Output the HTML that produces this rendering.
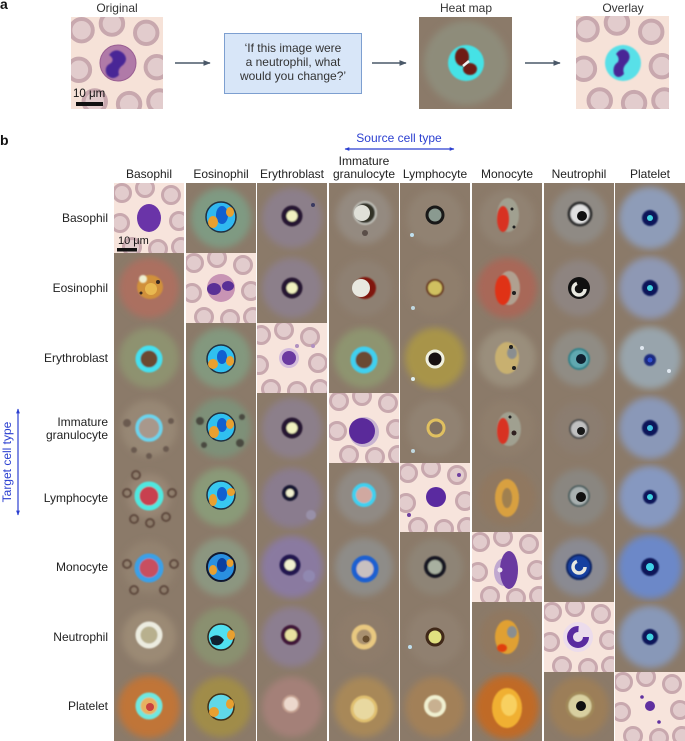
<!DOCTYPE html>
<html><head><meta charset="utf-8"><style>
html,body{margin:0;padding:0;background:#fff;}
svg{display:block;}
text{font-family:"Liberation Sans",Arial,sans-serif;}
</style></head><body>
<svg width="685" height="741" viewBox="0 0 685 741" xmlns="http://www.w3.org/2000/svg">
<defs>
<filter id="h" x="-25%" y="-25%" width="150%" height="150%"><feGaussianBlur stdDeviation="3.5"/></filter>
<filter id="s" x="-30%" y="-30%" width="160%" height="160%"><feGaussianBlur stdDeviation="0.9"/></filter>
<g id="R">
<circle cx="8" cy="10" r="8.5" fill="#e2cccd" stroke="#c8a8ae" stroke-width="3"/>
<circle cx="31" cy="5" r="8.5" fill="#e2cccd" stroke="#c8a8ae" stroke-width="3"/>
<circle cx="57" cy="12" r="8.5" fill="#e2cccd" stroke="#c8a8ae" stroke-width="3"/>
<circle cx="6" cy="40" r="8.5" fill="#e2cccd" stroke="#c8a8ae" stroke-width="3"/>
<circle cx="65" cy="38" r="8.5" fill="#e2cccd" stroke="#c8a8ae" stroke-width="3"/>
<circle cx="18" cy="64" r="8.5" fill="#e2cccd" stroke="#c8a8ae" stroke-width="3"/>
<circle cx="44" cy="66" r="8.5" fill="#e2cccd" stroke="#c8a8ae" stroke-width="3"/>
<circle cx="67" cy="64" r="8.5" fill="#e2cccd" stroke="#c8a8ae" stroke-width="3"/>
</g>
<marker id="ah" viewBox="0 0 10 10" refX="9" refY="5" markerWidth="5" markerHeight="5" orient="auto"><path d="M0,1 L10,5 L0,9 z" fill="#4a5868"/></marker>
<marker id="bh" viewBox="0 0 10 10" refX="9" refY="5" markerWidth="4" markerHeight="4" orient="auto-start-reverse"><path d="M0,1 L10,5 L0,9 z" fill="#2b3fd0"/></marker>
</defs>

<!-- Panel a -->
<text x="0" y="9" font-size="14" font-weight="bold" fill="#111">a</text>
<text x="117" y="12" font-size="12" fill="#333" text-anchor="middle">Original</text>
<text x="466" y="12" font-size="12" fill="#333" text-anchor="middle">Heat map</text>
<text x="623" y="12" font-size="12" fill="#333" text-anchor="middle">Overlay</text>

<svg x="71" y="17" width="92" height="92"><rect width="92" height="92" fill="#f6e2d8"/>
<g transform="scale(1.32)"><use href="#R"/></g>
<circle cx="47" cy="46" r="18" fill="#b07aa8" stroke="#9a5f92" stroke-width="1"/>
<path d="M38,38 q6,-8 14,-2 q6,6 0,12 q-6,4 -4,10 q-6,6 -12,0 q-4,-8 4,-12 q4,-4 -2,-8z" fill="#4a2896" filter="url(#s)"/>
<text x="2" y="80" font-size="11.5" fill="#111">10 μm</text>
<rect x="5" y="85" width="27" height="4" fill="#111"/>
</svg>

<line x1="175" y1="63" x2="210" y2="63" stroke="#4a5868" stroke-width="1.5" marker-end="url(#ah)"/>
<rect x="224.5" y="33.5" width="137" height="60" fill="#d8e6f8" stroke="#7d9fd0" stroke-width="1"/>
<text x="293" y="52" font-size="12" fill="#333" text-anchor="middle">‘If this image were</text>
<text x="293" y="66" font-size="12" fill="#333" text-anchor="middle">a neutrophil, what</text>
<text x="293" y="80" font-size="12" fill="#333" text-anchor="middle">would you change?’</text>
<line x1="372" y1="63" x2="406" y2="63" stroke="#4a5868" stroke-width="1.5" marker-end="url(#ah)"/>

<svg x="419" y="17" width="93" height="92"><rect width="93" height="92" fill="#8b7a69"/>
<circle cx="47" cy="46" r="42" fill="#8e8c7a" filter="url(#h)"/>
<circle cx="47" cy="46" r="18" fill="#44e2e6" filter="url(#s)"/>
<ellipse cx="43" cy="40" rx="7" ry="9" fill="#6e1e12" filter="url(#s)"/>
<ellipse cx="51" cy="52" rx="7" ry="6" fill="#6e1e12" filter="url(#s)"/>
<path d="M44,49 L50,44" stroke="#f0f0f0" stroke-width="2.5"/>
</svg>

<line x1="525" y1="63" x2="560" y2="63" stroke="#4a5868" stroke-width="1.5" marker-end="url(#ah)"/>

<svg x="576" y="16" width="93" height="93"><rect width="93" height="93" fill="#f6e2d8"/>
<g transform="scale(1.32)"><use href="#R"/></g>
<circle cx="47" cy="47" r="18" fill="#58e0e8" filter="url(#s)"/>
<path d="M40,38 q6,-8 12,-2 q4,6 -2,12 q-4,4 -2,10 q-6,6 -10,0 q-2,-8 4,-12 q2,-4 -2,-8z" fill="#4a2896" filter="url(#s)"/>
</svg>

<!-- Panel b headers -->
<text x="0" y="145" font-size="14" font-weight="bold" fill="#111">b</text>
<text x="399" y="142" font-size="12" fill="#2b3fd0" text-anchor="middle">Source cell type</text>
<line x1="345" y1="149" x2="454" y2="149" stroke="#2b3fd0" stroke-width="1.2" marker-start="url(#bh)" marker-end="url(#bh)"/>
<g font-size="12" fill="#222" text-anchor="middle">
<text x="149" y="178">Basophil</text>
<text x="221" y="178">Eosinophil</text>
<text x="292" y="178">Erythroblast</text>
<text x="364" y="165">Immature</text>
<text x="364" y="178">granulocyte</text>
<text x="435" y="178">Lymphocyte</text>
<text x="507" y="178">Monocyte</text>
<text x="579" y="178">Neutrophil</text>
<text x="650" y="178">Platelet</text>
</g>
<g font-size="12" fill="#222" text-anchor="end">
<text x="108" y="222">Basophil</text>
<text x="108" y="292">Eosinophil</text>
<text x="108" y="362">Erythroblast</text>
<text x="108" y="426">Immature</text>
<text x="108" y="439">granulocyte</text>
<text x="108" y="502">Lymphocyte</text>
<text x="108" y="571">Monocyte</text>
<text x="108" y="641">Neutrophil</text>
<text x="108" y="710">Platelet</text>
</g>
<text transform="translate(11,462) rotate(-90)" font-size="12" fill="#2b3fd0" text-anchor="middle">Target cell type</text>
<line x1="18" y1="409" x2="18" y2="515" stroke="#2b3fd0" stroke-width="1.2" marker-start="url(#bh)" marker-end="url(#bh)"/>

<!-- Column 1: Basophil source -->
<svg x="114" y="183" width="70" height="70"><rect width="70" height="70" fill="#f7e4dc"/><use href="#R"/>
<ellipse cx="35" cy="35" rx="12" ry="14" fill="#6a34a8"/>
<text x="4" y="61" font-size="11" fill="#111">10 μm</text><rect x="3" y="65" width="20" height="3.5" fill="#111"/></svg>
<svg x="114" y="253" width="70" height="70"><rect width="70" height="70" fill="#8b7a69"/><circle cx="35" cy="35" r="30" fill="#ab7060" filter="url(#h)"/>
<ellipse cx="36" cy="34" rx="13" ry="12" fill="#d0903a" filter="url(#s)"/><circle cx="37" cy="36" r="6" fill="#e8b850"/><circle cx="29" cy="26" r="4" fill="#eeeed0" filter="url(#s)"/><circle cx="44" cy="29" r="2" fill="#3a2a20"/><circle cx="27" cy="40" r="1.5" fill="#3a2a20"/></svg>
<svg x="114" y="323" width="70" height="70"><rect width="70" height="70" fill="#8b7a69"/><circle cx="35" cy="35" r="30" fill="#8e9270" filter="url(#h)"/>
<circle cx="35" cy="36" r="11" fill="#6a4a30" stroke="#44e0f0" stroke-width="5" filter="url(#s)"/></svg>
<svg x="114" y="393" width="70" height="70"><rect width="70" height="70" fill="#8b7a69"/><circle cx="35" cy="35" r="28" fill="#978775" filter="url(#h)"/>
<g fill="#6a5a50" filter="url(#s)"><circle cx="13" cy="30" r="4"/><circle cx="57" cy="28" r="3"/><circle cx="20" cy="57" r="3"/><circle cx="52" cy="56" r="3"/><circle cx="35" cy="63" r="3"/></g>
<circle cx="35" cy="35" r="12" fill="#a8988c" stroke="#6ad4ee" stroke-width="3.5" filter="url(#s)"/></svg>
<svg x="114" y="463" width="70" height="69"><rect width="70" height="70" fill="#8b7a69"/><circle cx="35" cy="33" r="22" fill="#988674" filter="url(#h)"/>
<g fill="none" stroke="#5e4a3e" stroke-width="2" filter="url(#s)"><circle cx="13" cy="30" r="4"/><circle cx="58" cy="30" r="4"/><circle cx="20" cy="56" r="4"/><circle cx="36" cy="60" r="4"/><circle cx="52" cy="54" r="4"/><circle cx="22" cy="12" r="4"/></g>
<circle cx="35" cy="33" r="12" fill="#c84050" stroke="#50e8e0" stroke-width="5" filter="url(#s)"/></svg>
<svg x="114" y="532" width="70" height="70"><rect width="70" height="70" fill="#8b7a69"/><circle cx="35" cy="35" r="26" fill="#93826f" filter="url(#h)"/>
<g fill="none" stroke="#5e4a3e" stroke-width="2" filter="url(#s)"><circle cx="13" cy="32" r="4"/><circle cx="60" cy="32" r="4"/><circle cx="20" cy="58" r="4"/><circle cx="50" cy="58" r="4"/></g>
<circle cx="35" cy="36" r="12" fill="#c85060" stroke="#3aa0e8" stroke-width="5" filter="url(#s)"/></svg>
<svg x="114" y="602" width="70" height="70"><rect width="70" height="70" fill="#8b7a69"/><circle cx="35" cy="35" r="27" fill="#9b8a74" filter="url(#h)"/>
<circle cx="35" cy="33" r="11" fill="#b8b08e" stroke="#ecece0" stroke-width="5" filter="url(#s)"/></svg>
<svg x="114" y="672" width="70" height="69"><rect width="70" height="70" fill="#8b7a69"/><circle cx="35" cy="35" r="31" fill="#c07438" filter="url(#h)"/>
<circle cx="35" cy="34" r="11" fill="#e8b060" stroke="#70e8e0" stroke-width="5" filter="url(#s)"/><circle cx="36" cy="35" r="4" fill="#c84040"/></svg>

<!-- Column 2: Eosinophil source -->
<svg x="186" y="183" width="70" height="70"><rect width="70" height="70" fill="#8b7a69"/><circle cx="35" cy="35" r="30" fill="#7f9a82" filter="url(#h)"/>
<circle cx="35" cy="34" r="15" fill="#30b8f0" stroke="#203040" stroke-width="1.5"/><ellipse cx="36" cy="32" rx="6" ry="9" fill="#1060d0"/><ellipse cx="27" cy="39" rx="5" ry="6" fill="#e8a030"/><ellipse cx="44" cy="29" rx="4" ry="5" fill="#e8a030"/></svg>
<svg x="186" y="253" width="70" height="70"><rect width="70" height="70" fill="#f7e4dc"/><use href="#R"/>
<circle cx="35" cy="35" r="14" fill="#c894b4"/><ellipse cx="28" cy="36" rx="7" ry="6" fill="#5a3096"/><ellipse cx="42" cy="33" rx="6" ry="5" fill="#5a3096"/></svg>
<svg x="186" y="323" width="70" height="70"><rect width="70" height="70" fill="#8b7a69"/><circle cx="35" cy="35" r="30" fill="#83987e" filter="url(#h)"/>
<circle cx="35" cy="36" r="14" fill="#30c0f0" stroke="#203040" stroke-width="1.5"/><ellipse cx="36" cy="34" rx="5" ry="7" fill="#1060d0"/><ellipse cx="27" cy="41" rx="5" ry="5" fill="#e8a030"/><ellipse cx="44" cy="38" rx="4" ry="5" fill="#e8a030"/></svg>
<svg x="186" y="393" width="70" height="70"><rect width="70" height="70" fill="#8b7a69"/><circle cx="35" cy="35" r="30" fill="#7e9078" filter="url(#h)"/>
<g fill="#4a4a40" filter="url(#s)"><circle cx="14" cy="28" r="4"/><circle cx="56" cy="24" r="3"/><circle cx="18" cy="52" r="3"/><circle cx="54" cy="50" r="4"/></g>
<circle cx="35" cy="34" r="14" fill="#30c0f0" stroke="#203040" stroke-width="1.5"/><ellipse cx="36" cy="32" rx="5" ry="7" fill="#1060d0"/><ellipse cx="28" cy="39" rx="5" ry="6" fill="#e8a030"/><ellipse cx="44" cy="31" rx="4" ry="5" fill="#e8a030"/></svg>
<svg x="186" y="463" width="70" height="69"><rect width="70" height="70" fill="#8b7a69"/><circle cx="35" cy="34" r="29" fill="#8a9a78" filter="url(#h)"/>
<circle cx="35" cy="32" r="14" fill="#38c8f0" stroke="#203040" stroke-width="1.5"/><ellipse cx="36" cy="31" rx="5" ry="7" fill="#1060d0"/><ellipse cx="27" cy="37" rx="4" ry="6" fill="#e8a030"/><ellipse cx="45" cy="29" rx="4" ry="4" fill="#e8a030"/></svg>
<svg x="186" y="532" width="70" height="70"><rect width="70" height="70" fill="#8b7a69"/><circle cx="35" cy="35" r="29" fill="#8c9680" filter="url(#h)"/>
<circle cx="35" cy="35" r="14" fill="#2a90e0" stroke="#101830" stroke-width="2"/><ellipse cx="36" cy="33" rx="5" ry="7" fill="#0a40a0"/><ellipse cx="27" cy="38" rx="4" ry="5" fill="#e8a030"/><ellipse cx="44" cy="31" rx="3.5" ry="4" fill="#e8a030"/></svg>
<svg x="186" y="602" width="70" height="70"><rect width="70" height="70" fill="#8b7a69"/><circle cx="35" cy="35" r="29" fill="#8a9070" filter="url(#h)"/>
<circle cx="35" cy="35" r="13" fill="#50e0f0" stroke="#302820" stroke-width="1.5"/><path d="M24,36 q8,-6 14,2 q-4,8 -12,4z" fill="#102030"/><ellipse cx="45" cy="33" rx="4" ry="5" fill="#e8a030"/></svg>
<svg x="186" y="672" width="70" height="69"><rect width="70" height="70" fill="#8b7a69"/><circle cx="35" cy="35" r="30" fill="#a08c48" filter="url(#h)"/>
<circle cx="35" cy="35" r="13" fill="#60d8e8" stroke="#403018" stroke-width="1.5"/><ellipse cx="28" cy="40" rx="5" ry="5" fill="#e8a030"/><ellipse cx="44" cy="32" rx="4" ry="5" fill="#e8a030"/></svg>

<!-- Column 3: Erythroblast source -->
<svg x="257" y="183" width="70" height="70"><rect width="70" height="70" fill="#8b7a69"/><circle cx="35" cy="35" r="30" fill="#8c7f8a" filter="url(#h)"/>
<circle cx="35" cy="33" r="8" fill="#f0f0c0" stroke="#281830" stroke-width="5" filter="url(#s)"/><circle cx="56" cy="22" r="2" fill="#3a3a60"/></svg>
<svg x="257" y="253" width="70" height="70"><rect width="70" height="70" fill="#8b7a69"/><circle cx="35" cy="35" r="30" fill="#8c7f8a" filter="url(#h)"/>
<circle cx="35" cy="35" r="8" fill="#f0f0c0" stroke="#281830" stroke-width="5" filter="url(#s)"/></svg>
<svg x="257" y="323" width="70" height="70"><rect width="70" height="70" fill="#f7e4dc"/><use href="#R" transform="translate(-4,2)"/>
<circle cx="32" cy="35" r="10" fill="#d4bcdc"/><circle cx="32" cy="35" r="7" fill="#6a3aa0"/><circle cx="40" cy="23" r="2" fill="#b090c0"/><circle cx="56" cy="23" r="2" fill="#b090c0"/></svg>
<svg x="257" y="393" width="70" height="70"><rect width="70" height="70" fill="#8b7a69"/><circle cx="35" cy="35" r="30" fill="#8c7f8a" filter="url(#h)"/>
<circle cx="35" cy="35" r="8" fill="#f0f0c0" stroke="#281830" stroke-width="5" filter="url(#s)"/></svg>
<svg x="257" y="463" width="70" height="69"><rect width="70" height="70" fill="#8b7a69"/><circle cx="35" cy="35" r="30" fill="#8a7c8e" filter="url(#h)"/>
<circle cx="33" cy="30" r="6" fill="#f0f0d0" stroke="#181830" stroke-width="4" filter="url(#s)"/><circle cx="54" cy="52" r="5" fill="#9890a8" filter="url(#s)"/></svg>
<svg x="257" y="532" width="70" height="70"><rect width="70" height="70" fill="#8b7a69"/><circle cx="35" cy="35" r="31" fill="#8a7aa0" filter="url(#h)"/>
<circle cx="33" cy="33" r="8" fill="#f0f0d0" stroke="#201850" stroke-width="5" filter="url(#s)"/><circle cx="52" cy="44" r="6" fill="#9088b0" filter="url(#s)"/></svg>
<svg x="257" y="602" width="70" height="70"><rect width="70" height="70" fill="#8b7a69"/><circle cx="35" cy="35" r="30" fill="#8c7e90" filter="url(#h)"/>
<circle cx="34" cy="33" r="8" fill="#e8e0a0" stroke="#401838" stroke-width="4" filter="url(#s)"/></svg>
<svg x="257" y="672" width="70" height="69"><rect width="70" height="70" fill="#8b7a69"/><circle cx="35" cy="35" r="30" fill="#a48078" filter="url(#h)"/>
<circle cx="34" cy="32" r="8" fill="#ecd8cc" stroke="#c4a090" stroke-width="2" filter="url(#s)"/></svg>

<!-- Column 4: Immature granulocyte source -->
<svg x="329" y="183" width="70" height="70"><rect width="70" height="70" fill="#8b7a69"/><circle cx="35" cy="33" r="28" fill="#948a80" filter="url(#h)"/>
<circle cx="36" cy="30" r="11" fill="#303028" stroke="#c0c0b8" stroke-width="2" filter="url(#s)"/><circle cx="33" cy="30" r="8" fill="#e0e0d8"/><circle cx="36" cy="50" r="3" fill="#5a4e48"/></svg>
<svg x="329" y="253" width="70" height="70"><rect width="70" height="70" fill="#8b7a69"/><circle cx="35" cy="35" r="28" fill="#8e8072" filter="url(#h)"/>
<circle cx="36" cy="35" r="11" fill="#801810" filter="url(#s)"/><circle cx="32" cy="35" r="9" fill="#e8e8e0"/></svg>
<svg x="329" y="323" width="70" height="70"><rect width="70" height="70" fill="#8b7a69"/><circle cx="35" cy="35" r="30" fill="#8e9470" filter="url(#h)"/>
<circle cx="35" cy="37" r="11" fill="#6a4a30" stroke="#40d0f0" stroke-width="5" filter="url(#s)"/></svg>
<svg x="329" y="393" width="70" height="70"><rect width="70" height="70" fill="#f7e4dc"/><use href="#R" transform="translate(2,-2)"/>
<circle cx="35" cy="39" r="15" fill="#c8b4d0"/><circle cx="33" cy="38" r="13" fill="#5a2a9a"/></svg>
<svg x="329" y="463" width="70" height="69"><rect width="70" height="70" fill="#8b7a69"/><circle cx="35" cy="33" r="28" fill="#908a84" filter="url(#h)"/>
<circle cx="35" cy="32" r="10" fill="#d0a8a0" stroke="#40d0f0" stroke-width="4" filter="url(#s)"/></svg>
<svg x="329" y="532" width="70" height="70"><rect width="70" height="70" fill="#8b7a69"/><circle cx="35" cy="35" r="29" fill="#8e8c88" filter="url(#h)"/>
<circle cx="36" cy="37" r="11" fill="#c8c0c0" stroke="#1a60d0" stroke-width="5" filter="url(#s)"/></svg>
<svg x="329" y="602" width="70" height="70"><rect width="70" height="70" fill="#8b7a69"/><circle cx="35" cy="35" r="27" fill="#8e7c6a" filter="url(#h)"/>
<circle cx="35" cy="35" r="10" fill="#a89070" stroke="#e8c880" stroke-width="5" filter="url(#s)"/><circle cx="37" cy="37" r="3.5" fill="#6a5030"/></svg>
<svg x="329" y="672" width="70" height="69"><rect width="70" height="70" fill="#8b7a69"/><circle cx="35" cy="35" r="30" fill="#a88858" filter="url(#h)"/>
<circle cx="35" cy="37" r="12" fill="#e8d8a0" stroke="#e0c070" stroke-width="3" filter="url(#s)"/></svg>

<!-- Column 5: Lymphocyte source -->
<svg x="400" y="183" width="70" height="70"><rect width="70" height="70" fill="#8b7a69"/><circle cx="35" cy="35" r="28" fill="#918272" filter="url(#h)"/>
<circle cx="35" cy="32" r="8" fill="#8a9a90" stroke="#181818" stroke-width="3"/><circle cx="12" cy="52" r="2" fill="#c0e0f0"/></svg>
<svg x="400" y="253" width="70" height="70"><rect width="70" height="70" fill="#8b7a69"/><circle cx="35" cy="35" r="28" fill="#8f7e6c" filter="url(#h)"/>
<circle cx="35" cy="35" r="8" fill="#d0c060" stroke="#6a3a20" stroke-width="2" filter="url(#s)"/><circle cx="13" cy="55" r="2" fill="#c0d8e0"/></svg>
<svg x="400" y="323" width="70" height="70"><rect width="70" height="70" fill="#8b7a69"/><circle cx="35" cy="35" r="30" fill="#a89448" filter="url(#h)"/>
<circle cx="35" cy="36" r="8" fill="#181010" stroke="#f0f0e0" stroke-width="3"/><circle cx="13" cy="56" r="2" fill="#e0f0f0"/></svg>
<svg x="400" y="393" width="70" height="70"><rect width="70" height="70" fill="#8b7a69"/><circle cx="35" cy="35" r="28" fill="#918272" filter="url(#h)"/>
<circle cx="36" cy="35" r="8" fill="#807060" stroke="#e0c060" stroke-width="3"/><circle cx="13" cy="58" r="2" fill="#c0d8e0"/></svg>
<svg x="400" y="463" width="70" height="69"><rect width="70" height="70" fill="#f7e4dc"/><use href="#R"/>
<circle cx="36" cy="34" r="10" fill="#5a2aa0"/><circle cx="59" cy="12" r="2" fill="#7040a0"/><circle cx="9" cy="52" r="2" fill="#7040a0"/></svg>
<svg x="400" y="532" width="70" height="70"><rect width="70" height="70" fill="#8b7a69"/><circle cx="35" cy="35" r="28" fill="#8e8476" filter="url(#h)"/>
<circle cx="35" cy="35" r="9" fill="#a8b0a0" stroke="#181820" stroke-width="4" filter="url(#s)"/></svg>
<svg x="400" y="602" width="70" height="70"><rect width="70" height="70" fill="#8b7a69"/><circle cx="35" cy="35" r="28" fill="#908070" filter="url(#h)"/>
<circle cx="35" cy="35" r="8" fill="#e0e080" stroke="#402818" stroke-width="3"/><circle cx="10" cy="45" r="2" fill="#c0e0f0"/></svg>
<svg x="400" y="672" width="70" height="69"><rect width="70" height="70" fill="#8b7a69"/><circle cx="35" cy="35" r="30" fill="#a28058" filter="url(#h)"/>
<circle cx="35" cy="34" r="9" fill="#c8b090" stroke="#f0f0d0" stroke-width="4" filter="url(#s)"/></svg>

<!-- Column 6: Monocyte source -->
<svg x="472" y="183" width="70" height="70"><rect width="70" height="70" fill="#8b7a69"/><circle cx="35" cy="35" r="28" fill="#918272" filter="url(#h)"/>
<ellipse cx="36" cy="32" rx="11" ry="17" fill="#a0a090" filter="url(#s)"/><ellipse cx="31" cy="36" rx="6" ry="13" fill="#d83020" filter="url(#s)"/><circle cx="40" cy="26" r="1.5" fill="#202020"/><circle cx="42" cy="44" r="1.5" fill="#202020"/></svg>
<svg x="472" y="253" width="70" height="70"><rect width="70" height="70" fill="#8b7a69"/><circle cx="35" cy="35" r="30" fill="#a86858" filter="url(#h)"/>
<ellipse cx="37" cy="35" rx="11" ry="17" fill="#b0a090" filter="url(#s)"/><ellipse cx="31" cy="37" rx="8" ry="15" fill="#e03018" filter="url(#s)"/><circle cx="42" cy="40" r="2" fill="#202020"/></svg>
<svg x="472" y="323" width="70" height="70"><rect width="70" height="70" fill="#8b7a69"/><circle cx="35" cy="35" r="29" fill="#9a8e7c" filter="url(#h)"/>
<ellipse cx="35" cy="35" rx="12" ry="16" fill="#c8b070" filter="url(#s)"/><ellipse cx="40" cy="30" rx="5" ry="6" fill="#8a8e90" filter="url(#s)"/><circle cx="39" cy="24" r="2" fill="#202020"/><circle cx="42" cy="45" r="2" fill="#202020"/></svg>
<svg x="472" y="393" width="70" height="70"><rect width="70" height="70" fill="#8b7a69"/><circle cx="35" cy="35" r="28" fill="#8f7e6c" filter="url(#h)"/>
<ellipse cx="37" cy="36" rx="12" ry="17" fill="#a0a090" filter="url(#s)"/><ellipse cx="31" cy="38" rx="6" ry="13" fill="#d83020" filter="url(#s)"/><circle cx="42" cy="40" r="2.5" fill="#302020"/><circle cx="38" cy="24" r="1.5" fill="#202020"/></svg>
<svg x="472" y="463" width="70" height="69"><rect width="70" height="70" fill="#8b7a69"/><circle cx="35" cy="34" r="29" fill="#907860" filter="url(#h)"/>
<ellipse cx="35" cy="35" rx="12" ry="19" fill="#d8a040" filter="url(#s)"/><ellipse cx="35" cy="35" rx="5" ry="10" fill="#a08050" filter="url(#s)"/></svg>
<svg x="472" y="532" width="70" height="70"><rect width="70" height="70" fill="#f7e4dc"/><use href="#R"/>
<ellipse cx="32" cy="40" rx="10" ry="14" fill="#c0a8d0"/><ellipse cx="37" cy="38" rx="9" ry="19" fill="#6a3aa0"/><circle cx="28" cy="38" r="2.5" fill="#f0e8f0"/></svg>
<svg x="472" y="602" width="70" height="70"><rect width="70" height="70" fill="#8b7a69"/><circle cx="35" cy="35" r="28" fill="#907860" filter="url(#h)"/>
<ellipse cx="35" cy="35" rx="12" ry="17" fill="#e0a030" filter="url(#s)"/><ellipse cx="40" cy="30" rx="5" ry="6" fill="#8a8e90" filter="url(#s)"/><ellipse cx="30" cy="46" rx="5" ry="4" fill="#e04010" filter="url(#s)"/></svg>
<svg x="472" y="672" width="70" height="69"><rect width="70" height="70" fill="#8b7a69"/><circle cx="35" cy="35" r="32" fill="#c06a28" filter="url(#h)"/>
<ellipse cx="35" cy="36" rx="15" ry="20" fill="#f0b030" filter="url(#s)"/><ellipse cx="37" cy="33" rx="8" ry="11" fill="#f8d060" filter="url(#s)"/></svg>

<!-- Column 7: Neutrophil source -->
<svg x="544" y="183" width="70" height="70"><rect width="70" height="70" fill="#8b7a69"/><circle cx="35" cy="33" r="28" fill="#8f8a84" filter="url(#h)"/>
<circle cx="36" cy="31" r="11" fill="#e0e0e0" stroke="#303030" stroke-width="3" filter="url(#s)"/><circle cx="38" cy="33" r="5" fill="#101010"/></svg>
<svg x="544" y="253" width="70" height="70"><rect width="70" height="70" fill="#8b7a69"/><circle cx="35" cy="35" r="28" fill="#8e8480" filter="url(#h)"/>
<circle cx="35" cy="35" r="11" fill="#101010"/><circle cx="35" cy="36" r="6" fill="none" stroke="#e8e8e0" stroke-width="3.5" stroke-dasharray="26 12"/></svg>
<svg x="544" y="323" width="70" height="70"><rect width="70" height="70" fill="#8b7a69"/><circle cx="35" cy="35" r="28" fill="#908c84" filter="url(#h)"/>
<circle cx="35" cy="36" r="10" fill="#60a8b0" stroke="#308088" stroke-width="2" filter="url(#s)"/><circle cx="37" cy="36" r="5" fill="#102030"/></svg>
<svg x="544" y="393" width="70" height="70"><rect width="70" height="70" fill="#8b7a69"/><circle cx="35" cy="35" r="26" fill="#8b7d70" filter="url(#h)"/>
<circle cx="35" cy="36" r="9" fill="#c0c0c0" stroke="#505050" stroke-width="2" filter="url(#s)"/><circle cx="37" cy="38" r="4" fill="#181818"/></svg>
<svg x="544" y="463" width="70" height="69"><rect width="70" height="70" fill="#8b7a69"/><circle cx="35" cy="34" r="28" fill="#8a8680" filter="url(#h)"/>
<circle cx="35" cy="33" r="10" fill="#a8b0b0" stroke="#506060" stroke-width="2" filter="url(#s)"/><circle cx="37" cy="34" r="5" fill="#101010"/></svg>
<svg x="544" y="532" width="70" height="70"><rect width="70" height="70" fill="#8b7a69"/><circle cx="35" cy="35" r="29" fill="#8a8a92" filter="url(#h)"/>
<circle cx="35" cy="35" r="12" fill="#1840a0" stroke="#0a2060" stroke-width="2" filter="url(#s)"/><circle cx="35" cy="35" r="6" fill="none" stroke="#e8e8e0" stroke-width="3.5" stroke-dasharray="26 12"/></svg>
<svg x="544" y="602" width="70" height="70"><rect width="70" height="70" fill="#f7e4dc"/><use href="#R"/>
<circle cx="34" cy="35" r="15" fill="#ecdcec"/><circle cx="34" cy="35" r="8" fill="none" stroke="#5a2aa0" stroke-width="6" stroke-dasharray="38 12"/></svg>
<svg x="544" y="672" width="70" height="69"><rect width="70" height="70" fill="#8b7a69"/><circle cx="35" cy="35" r="30" fill="#9c7e58" filter="url(#h)"/>
<circle cx="36" cy="34" r="13" fill="#d8d0a0" stroke="#a08858" stroke-width="3" filter="url(#s)"/><circle cx="37" cy="34" r="5" fill="#101010"/></svg>

<!-- Column 8: Platelet source -->
<svg x="615" y="183" width="70" height="70"><rect width="70" height="70" fill="#8b7a69"/><circle cx="35" cy="35" r="31" fill="#8e9cb8" filter="url(#h)"/>
<circle cx="35" cy="35" r="8" fill="#10185a" filter="url(#s)"/><circle cx="35" cy="35" r="3" fill="#40d0e0"/></svg>
<svg x="615" y="253" width="70" height="70"><rect width="70" height="70" fill="#8b7a69"/><circle cx="35" cy="35" r="31" fill="#8e98b4" filter="url(#h)"/>
<circle cx="35" cy="35" r="8" fill="#10185a" filter="url(#s)"/><circle cx="35" cy="35" r="3" fill="#40d0e0"/></svg>
<svg x="615" y="323" width="70" height="70"><rect width="70" height="70" fill="#8b7a69"/><circle cx="35" cy="35" r="31" fill="#98a4ac" filter="url(#h)"/>
<circle cx="35" cy="37" r="6" fill="#1a2a80" filter="url(#s)"/><circle cx="35" cy="37" r="2.5" fill="#3050d0"/><circle cx="27" cy="25" r="2" fill="#e0e8f0"/><circle cx="54" cy="48" r="2" fill="#e0e8f0"/></svg>
<svg x="615" y="393" width="70" height="70"><rect width="70" height="70" fill="#8b7a69"/><circle cx="35" cy="35" r="31" fill="#8a98b8" filter="url(#h)"/>
<circle cx="35" cy="35" r="8" fill="#10185a" filter="url(#s)"/><circle cx="35" cy="35" r="3" fill="#40c0e0"/></svg>
<svg x="615" y="463" width="70" height="69"><rect width="70" height="70" fill="#8b7a69"/><circle cx="35" cy="34" r="31" fill="#8698c0" filter="url(#h)"/>
<circle cx="35" cy="34" r="7" fill="#10185a" filter="url(#s)"/><circle cx="35" cy="34" r="3" fill="#40d0e0"/></svg>
<svg x="615" y="532" width="70" height="70"><rect width="70" height="70" fill="#8b7a69"/><circle cx="35" cy="35" r="32" fill="#6c88c8" filter="url(#h)"/>
<circle cx="35" cy="35" r="9" fill="#10185a" filter="url(#s)"/><circle cx="35" cy="35" r="4" fill="#40d0e8"/></svg>
<svg x="615" y="602" width="70" height="70"><rect width="70" height="70" fill="#8b7a69"/><circle cx="35" cy="35" r="31" fill="#8898b8" filter="url(#h)"/>
<circle cx="35" cy="35" r="8" fill="#10185a" filter="url(#s)"/><circle cx="35" cy="35" r="3.5" fill="#40d0e0"/></svg>
<svg x="615" y="672" width="70" height="69"><rect width="70" height="70" fill="#f7e4dc"/><use href="#R"/>
<circle cx="35" cy="34" r="5" fill="#6030a0"/><circle cx="27" cy="25" r="1.8" fill="#6030a0"/><circle cx="44" cy="50" r="1.8" fill="#6030a0"/></svg>
</svg>
</body></html>
